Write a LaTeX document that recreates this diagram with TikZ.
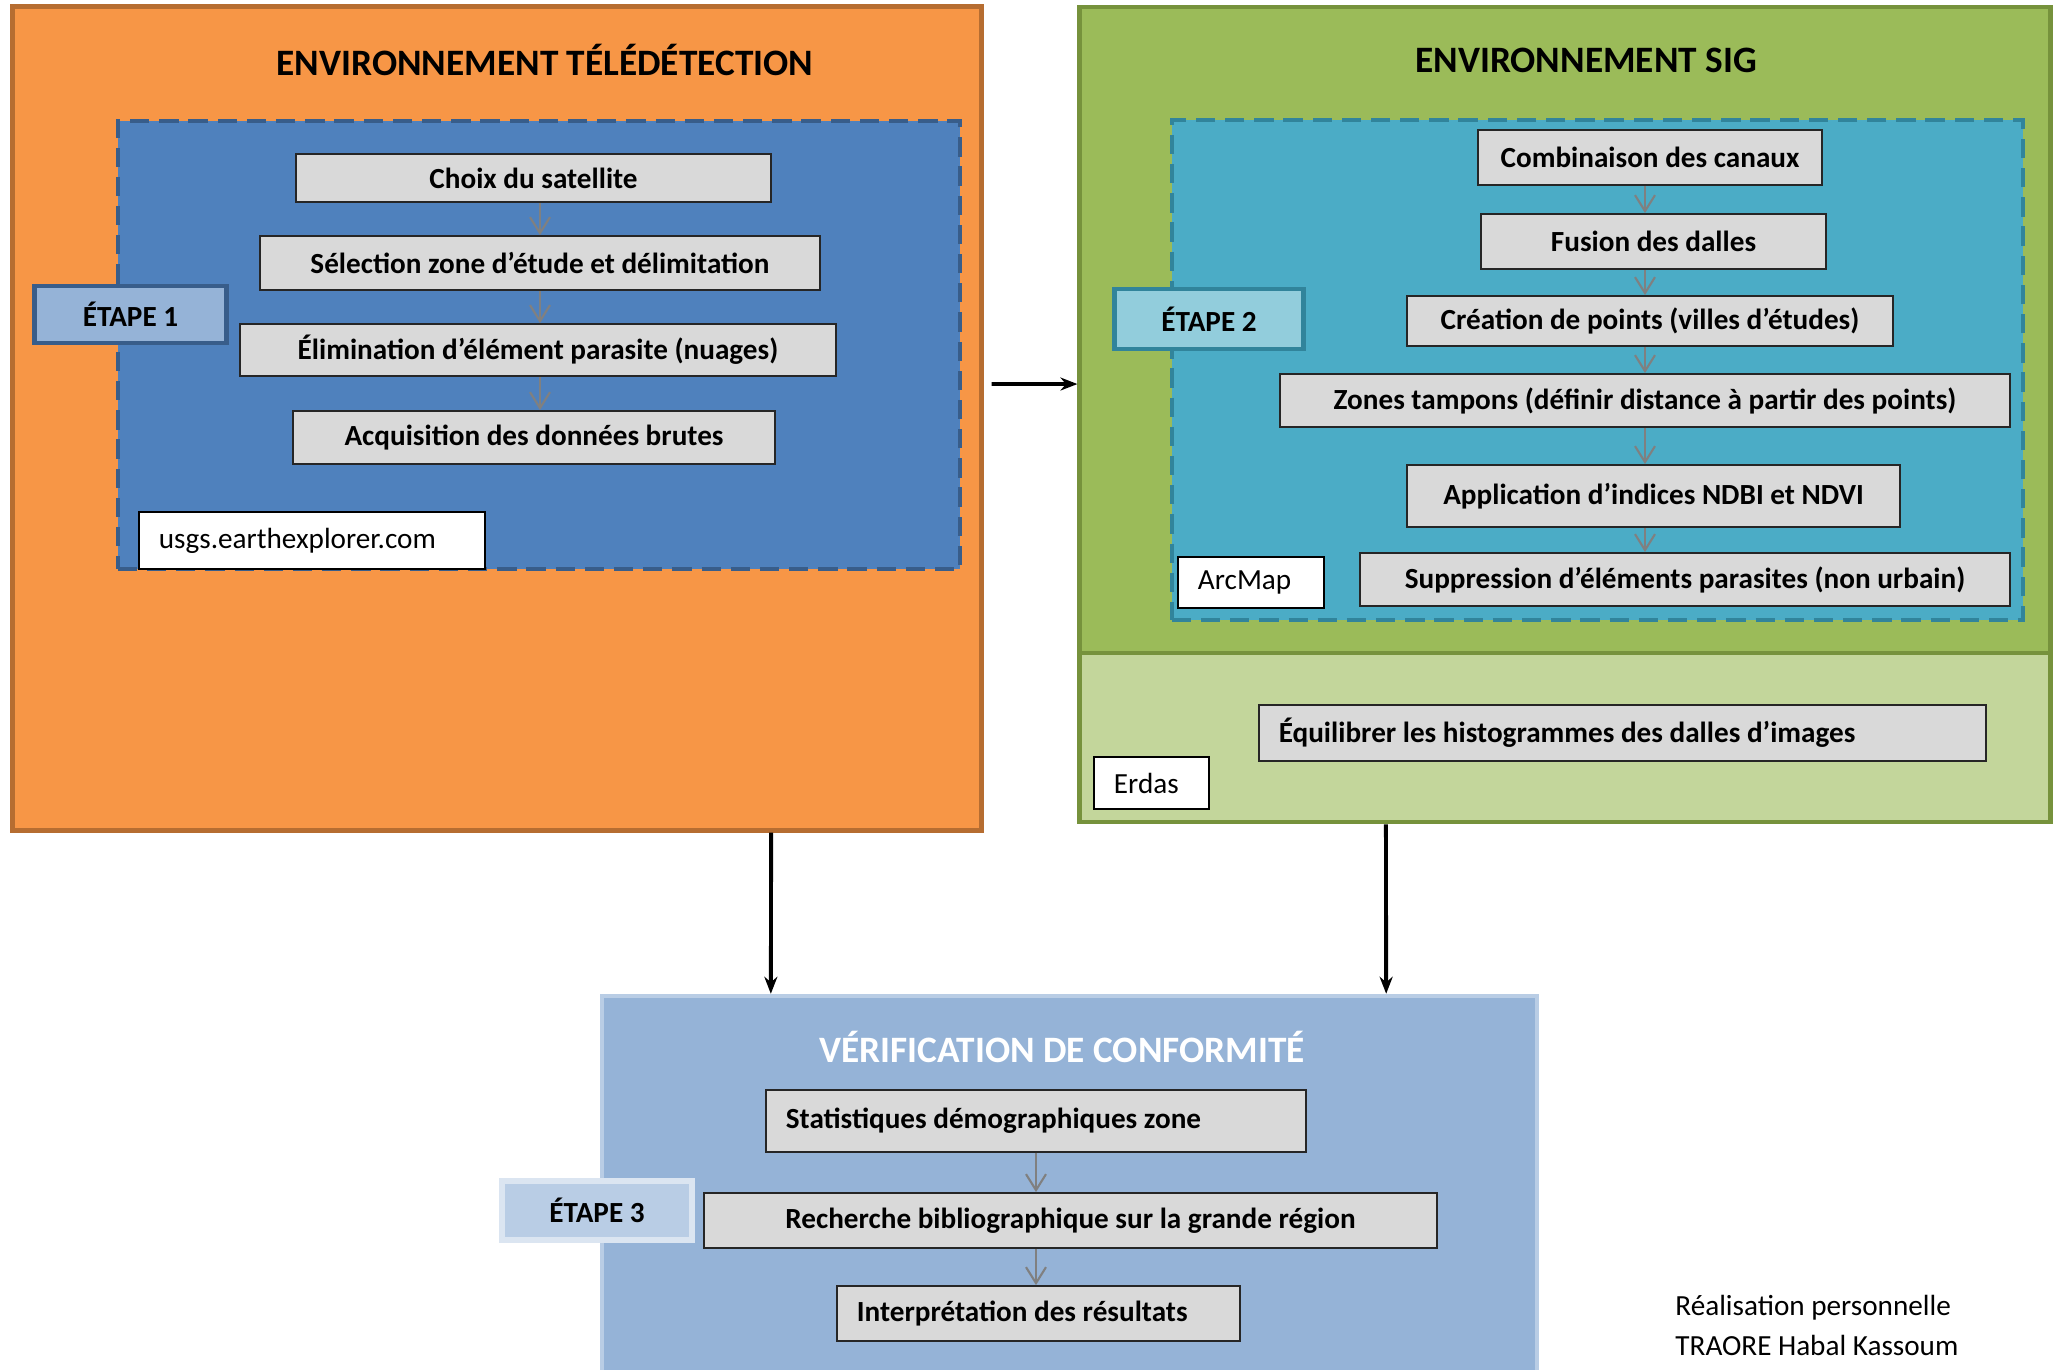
\documentclass[tikz,border=0pt]{standalone}
\usepackage{fontspec}
\setmainfont{Carlito}
\usetikzlibrary{arrows.meta}

\definecolor{orangefond}{HTML}{F79646}
\definecolor{orangebord}{HTML}{B66D31}
\definecolor{bleufond}{HTML}{4F81BD}
\definecolor{bleubord}{HTML}{385D8A}
\definecolor{bleuclair}{HTML}{95B3D7}
\definecolor{vertfond}{HTML}{9BBB59}
\definecolor{vertbord}{HTML}{76923C}
\definecolor{vertclair}{HTML}{C3D69B}
\definecolor{turquoise}{HTML}{4BACC6}
\definecolor{turquoisebord}{HTML}{31849B}
\definecolor{turquoiseclair}{HTML}{92CDDC}
\definecolor{grisboite}{HTML}{D9D9D9}
\definecolor{bleupale}{HTML}{B9CDE5}
\definecolor{bleutrespale}{HTML}{DBE5F1}

\tikzset{
  cadre/.style={rectangle, inner sep=0pt, line width=1.3pt},
  zone/.style={rectangle, inner sep=0pt, line width=1.2pt, dash pattern=on 5.5pt off 2.8pt},
  tache/.style={rectangle, draw=black!85, fill=grisboite, line width=0.5pt, inner sep=0pt, font=\fontsize{8.3}{10}\selectfont\bfseries},
  gauche/.style={align=flush left, inner xsep=0.2cm},
  logiciel/.style={rectangle, draw=black, fill=white, line width=0.5pt, inner sep=0pt, font=\fontsize{8.3}{10}\selectfont},
  etape/.style={rectangle, line width=1.4pt, inner sep=0pt, font=\fontsize{8.3}{10}\selectfont\bfseries},
  titre/.style={font=\fontsize{10.6}{12}\selectfont\bfseries},
  fleche/.style={-{Stealth[length=0.17cm, width=0.13cm]}, line width=1.1pt, black},
  suite/.style={-{Straight Barb[length=0.16cm, width=0.2cm]}, line width=0.6pt, black!50},
}

\begin{document}
\begin{tikzpicture}[x=0.01cm, y=-0.01cm]
\path[use as bounding box, clip] (0,0) rectangle (2060,1369);

% environnement teledetection
\node[cadre, draw=orangebord, fill=orangefond, minimum width=9.68cm, minimum height=8.23cm] (teledet) at (497,418.5) {};
\node[titre] (titreteledet) at (545,60) {ENVIRONNEMENT TÉLÉDÉTECTION};
\node[zone, draw=bleubord, fill=bleufond, minimum width=8.42cm, minimum height=4.48cm] (zone1) at (539,345) {};
\node[etape, draw=bleubord, fill=bleuclair, minimum width=1.91cm, minimum height=0.57cm] (etape1) at (130.5,314.5) {ÉTAPE 1};
\node[tache, minimum width=4.75cm, minimum height=0.48cm] (choix) at (533.5,178) {Choix du satellite};
\node[tache, minimum width=5.60cm, minimum height=0.54cm] (selection) at (540,263) {Sélection zone d’étude et délimitation};
\node[tache, minimum width=5.96cm, minimum height=0.52cm] (elimination) at (538,350) {Élimination d’élément parasite (nuages)};
\node[tache, minimum width=4.82cm, minimum height=0.53cm] (acquisition) at (534,437.5) {Acquisition des données brutes};
\node[logiciel, gauche, text width=3.06cm, minimum height=0.57cm] (usgs) at (312,540.5) {usgs.earthexplorer.com};

% environnement SIG
\node[cadre, draw=vertbord, fill=vertfond, minimum width=9.70cm, minimum height=6.46cm] (sig) at (1565,330) {};
\node[cadre, draw=vertbord, fill=vertclair, minimum width=9.70cm, minimum height=1.69cm] (erdaszone) at (1565,737.5) {};
\node[titre] (titresig) at (1586,60) {ENVIRONNEMENT SIG};
\node[zone, draw=turquoisebord, fill=turquoise, minimum width=8.51cm, minimum height=5.00cm] (zone2) at (1597.5,370) {};
\node[etape, draw=turquoisebord, fill=turquoiseclair, minimum width=1.88cm, minimum height=0.60cm] (etape2) at (1209,319) {ÉTAPE 2};
\node[tache, minimum width=3.44cm, minimum height=0.55cm] (combinaison) at (1650,157.5) {Combinaison des canaux};
\node[tache, minimum width=3.45cm, minimum height=0.55cm] (fusion) at (1653.5,241.5) {Fusion des dalles};
\node[tache, minimum width=4.86cm, minimum height=0.50cm] (creation) at (1650,321) {Création de points (villes d’études)};
\node[tache, minimum width=7.30cm, minimum height=0.53cm] (tampons) at (1645,400.5) {Zones tampons (définir distance à partir des points)};
\node[tache, minimum width=4.93cm, minimum height=0.62cm] (indices) at (1653.5,496) {Application d’indices NDBI et NDVI};
\node[tache, minimum width=6.50cm, minimum height=0.53cm] (suppression) at (1685,579.5) {Suppression d’éléments parasites (non urbain)};
\node[logiciel, gauche, text width=1.06cm, minimum height=0.51cm] (arcmap) at (1251,582.5) {ArcMap};
\node[tache, gauche, text width=6.87cm, minimum height=0.56cm] (equilibrer) at (1622.5,733) {Équilibrer les histogrammes des dalles d’images};
\node[logiciel, gauche, text width=0.75cm, minimum height=0.52cm] (erdas) at (1151.5,783) {Erdas};

% verification
\node[cadre, draw=bleupale, fill=bleuclair, line width=1.2pt, minimum width=9.35cm, minimum height=3.94cm] (verif) at (1069.5,1193) {};
\node[titre, white] (titreverif) at (1062,1047) {VÉRIFICATION DE CONFORMITÉ};
\node[etape, draw=bleutrespale, fill=bleupale, line width=1.6pt, minimum width=1.90cm, minimum height=0.59cm] (etape3) at (597,1210.5) {ÉTAPE 3};
\node[tache, gauche, text width=5.00cm, minimum height=0.62cm] (statistiques) at (1036,1121) {Statistiques démographiques zone};
\node[tache, minimum width=7.33cm, minimum height=0.55cm] (recherche) at (1070.5,1220.5) {Recherche bibliographique sur la grande région};
\node[tache, gauche, text width=3.63cm, minimum height=0.55cm] (interpretation) at (1038.5,1313.5) {Interprétation des résultats};

\node[font=\fontsize{8.3}{11.4}\selectfont, align=left, anchor=west] (auteur) at (1663,1325) {Réalisation personnelle\\TRAORE Habal Kassoum};

% enchainements
\draw[suite] (selection.north |- choix.south) -- (selection.north);
\draw[suite] (selection.south) -- (selection.south |- elimination.north);
\draw[suite] (selection.south |- elimination.south) -- (selection.south |- acquisition.north);
\draw[suite] (tampons.north |- combinaison.south) -- (tampons.north |- fusion.north);
\draw[suite] (tampons.north |- fusion.south) -- (tampons.north |- creation.north);
\draw[suite] (tampons.north |- creation.south) -- (tampons.north);
\draw[suite] (tampons.south) -- (tampons.south |- indices.north);
\draw[suite] (tampons.south |- indices.south) -- (tampons.south |- suppression.north);
\draw[suite] (statistiques.south) -- (statistiques.south |- recherche.north);
\draw[suite] (statistiques.south |- recherche.south) -- (statistiques.south |- interpretation.north);

\draw[fleche] ([xshift=0.08cm, yshift=0.345cm]teledet.east) -- ([yshift=-0.54cm]sig.west);
\draw[fleche] ([xshift=2.74cm]teledet.south) -- ([xshift=-2.985cm]verif.north);
\draw[fleche] ([xshift=-1.79cm]erdaszone.south) -- ([xshift=3.165cm]verif.north);
\end{tikzpicture}
\end{document}
